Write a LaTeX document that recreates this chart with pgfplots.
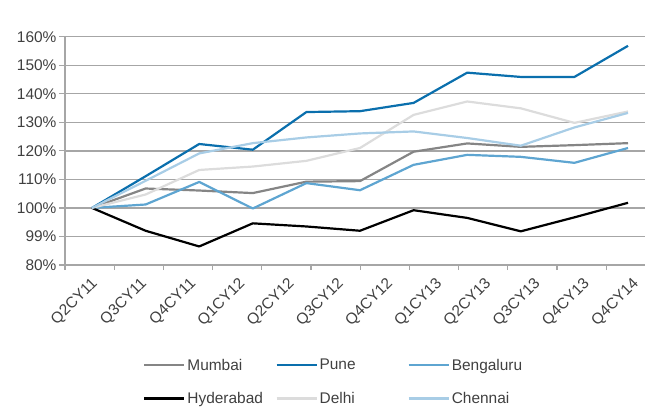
\documentclass[border=0pt]{standalone}
\usepackage{fontspec}
\setmainfont{Liberation Sans}
\usepackage{pgfplots}
\pgfplotsset{compat=1.18}

\definecolor{cMumbai}{HTML}{858585}
\definecolor{cPune}{HTML}{0A6FAD}
\definecolor{cBeng}{HTML}{5EA5D1}
\definecolor{cHyd}{HTML}{000000}
\definecolor{cDelhi}{HTML}{DCDCDC}
\definecolor{cChen}{HTML}{A8CDE6}
\definecolor{gridgray}{HTML}{A6A6A6}
\definecolor{txtgray}{HTML}{404040}

\newcommand{\lbl}[1]{\hspace{2bp}\makebox[88bp][l]{#1}}

\begin{document}
\begin{tikzpicture}
\useasboundingbox (0,0) rectangle (645bp,407bp);
\begin{axis}[
    at={(65bp,142bp)}, anchor=south west,
    scale only axis,
    width=580bp, height=228.3bp,
    xmin=-0.5037, xmax=10.317,
    ymin=80, ymax=160,
    axis lines=left,
    axis line style={-, draw=gridgray, line width=1.2bp},
    ymajorgrids,
    grid style={draw=gridgray, line width=1.3bp},
    tick align=outside,
    major tick length=6bp,
    minor tick length=5bp,
    ytick={80,90,...,160},
    yticklabels={80\%,99\%,100\%,110\%,120\%,130\%,140\%,150\%,160\%},
    y tick style={draw=gridgray, line width=1.2bp},
    xtick={-0.045,0.873,1.791,2.709,3.627,4.545,5.463,6.381,7.298,8.216,9.134,10.052},
    xticklabels={Q2CY11,Q3CY11,Q4CY11,Q1CY12,Q2CY12,Q3CY12,Q4CY12,Q1CY13,Q2CY13,Q3CY13,Q4CY13,Q4CY14},
    major x tick style={draw=none},
    minor xtick={-0.504,0.414,1.332,2.250,3.168,4.086,5.004,5.922,6.839,7.757,8.675,9.593},
    minor x tick style={draw=gridgray, line width=1.2bp},
    tick label style={font=\fontsize{15.5}{18}\selectfont, text=txtgray},
    yticklabel style={xshift=1bp},
    xticklabel style={rotate=45, anchor=north east, yshift=-1bp},
    legend columns=3,
    legend cell align=left,
    legend image code/.code={\draw[#1, line width=2.2bp] (0bp,0bp) -- (40bp,0bp);},
    legend style={
        at={(0.1345,-0.411)}, anchor=north west,
        draw=none, fill=none,
        inner sep=0pt,
        nodes={inner sep=0pt},
        row sep=20.5bp,
        font=\fontsize{15.5}{18}\selectfont,
        text=txtgray,
    },
    every axis plot/.append style={line width=2.2bp, line join=round},
]

\addplot[cMumbai] coordinates {
(0,100) (1,106.8) (2,106.1) (3,105.2) (4,109.2) (5,109.4) (6,119.7) (7,122.6) (8,121.4) (9,122.0) (10,122.7)
};
\addlegendentry{\lbl{Mumbai}}

\addplot[cPune] coordinates {
(0,100) (1,111.1) (2,122.4) (3,120.4) (4,133.6) (5,133.9) (6,136.8) (7,147.4) (8,145.9) (9,145.9) (10,156.8)
};
\addlegendentry{\lbl{Pune}}

\addplot[cBeng] coordinates {
(0,100) (1,101.2) (2,109.1) (3,99.8) (4,108.7) (5,106.2) (6,115.1) (7,118.6) (8,117.9) (9,115.8) (10,121.0)
};
\addlegendentry{\lbl{Bengaluru}}

\addplot[cHyd] coordinates {
(0,100) (1,92.0) (2,86.5) (3,94.6) (4,93.5) (5,92.0) (6,99.2) (7,96.5) (8,91.8) (9,96.7) (10,101.8)
};
\addlegendentry{\lbl{Hyderabad}}

\addplot[cDelhi] coordinates {
(0,100) (1,104.7) (2,113.3) (3,114.5) (4,116.5) (5,121.0) (6,132.6) (7,137.3) (8,134.9) (9,129.8) (10,133.8)
};
\addlegendentry{\lbl{Delhi}}

\addplot[cChen] coordinates {
(0,100) (1,109.5) (2,119.1) (3,122.7) (4,124.7) (5,126.1) (6,126.8) (7,124.5) (8,121.8) (9,128.2) (10,133.3)
};
\addlegendentry{\lbl{Chennai}}

\end{axis}
\end{tikzpicture}
\end{document}
